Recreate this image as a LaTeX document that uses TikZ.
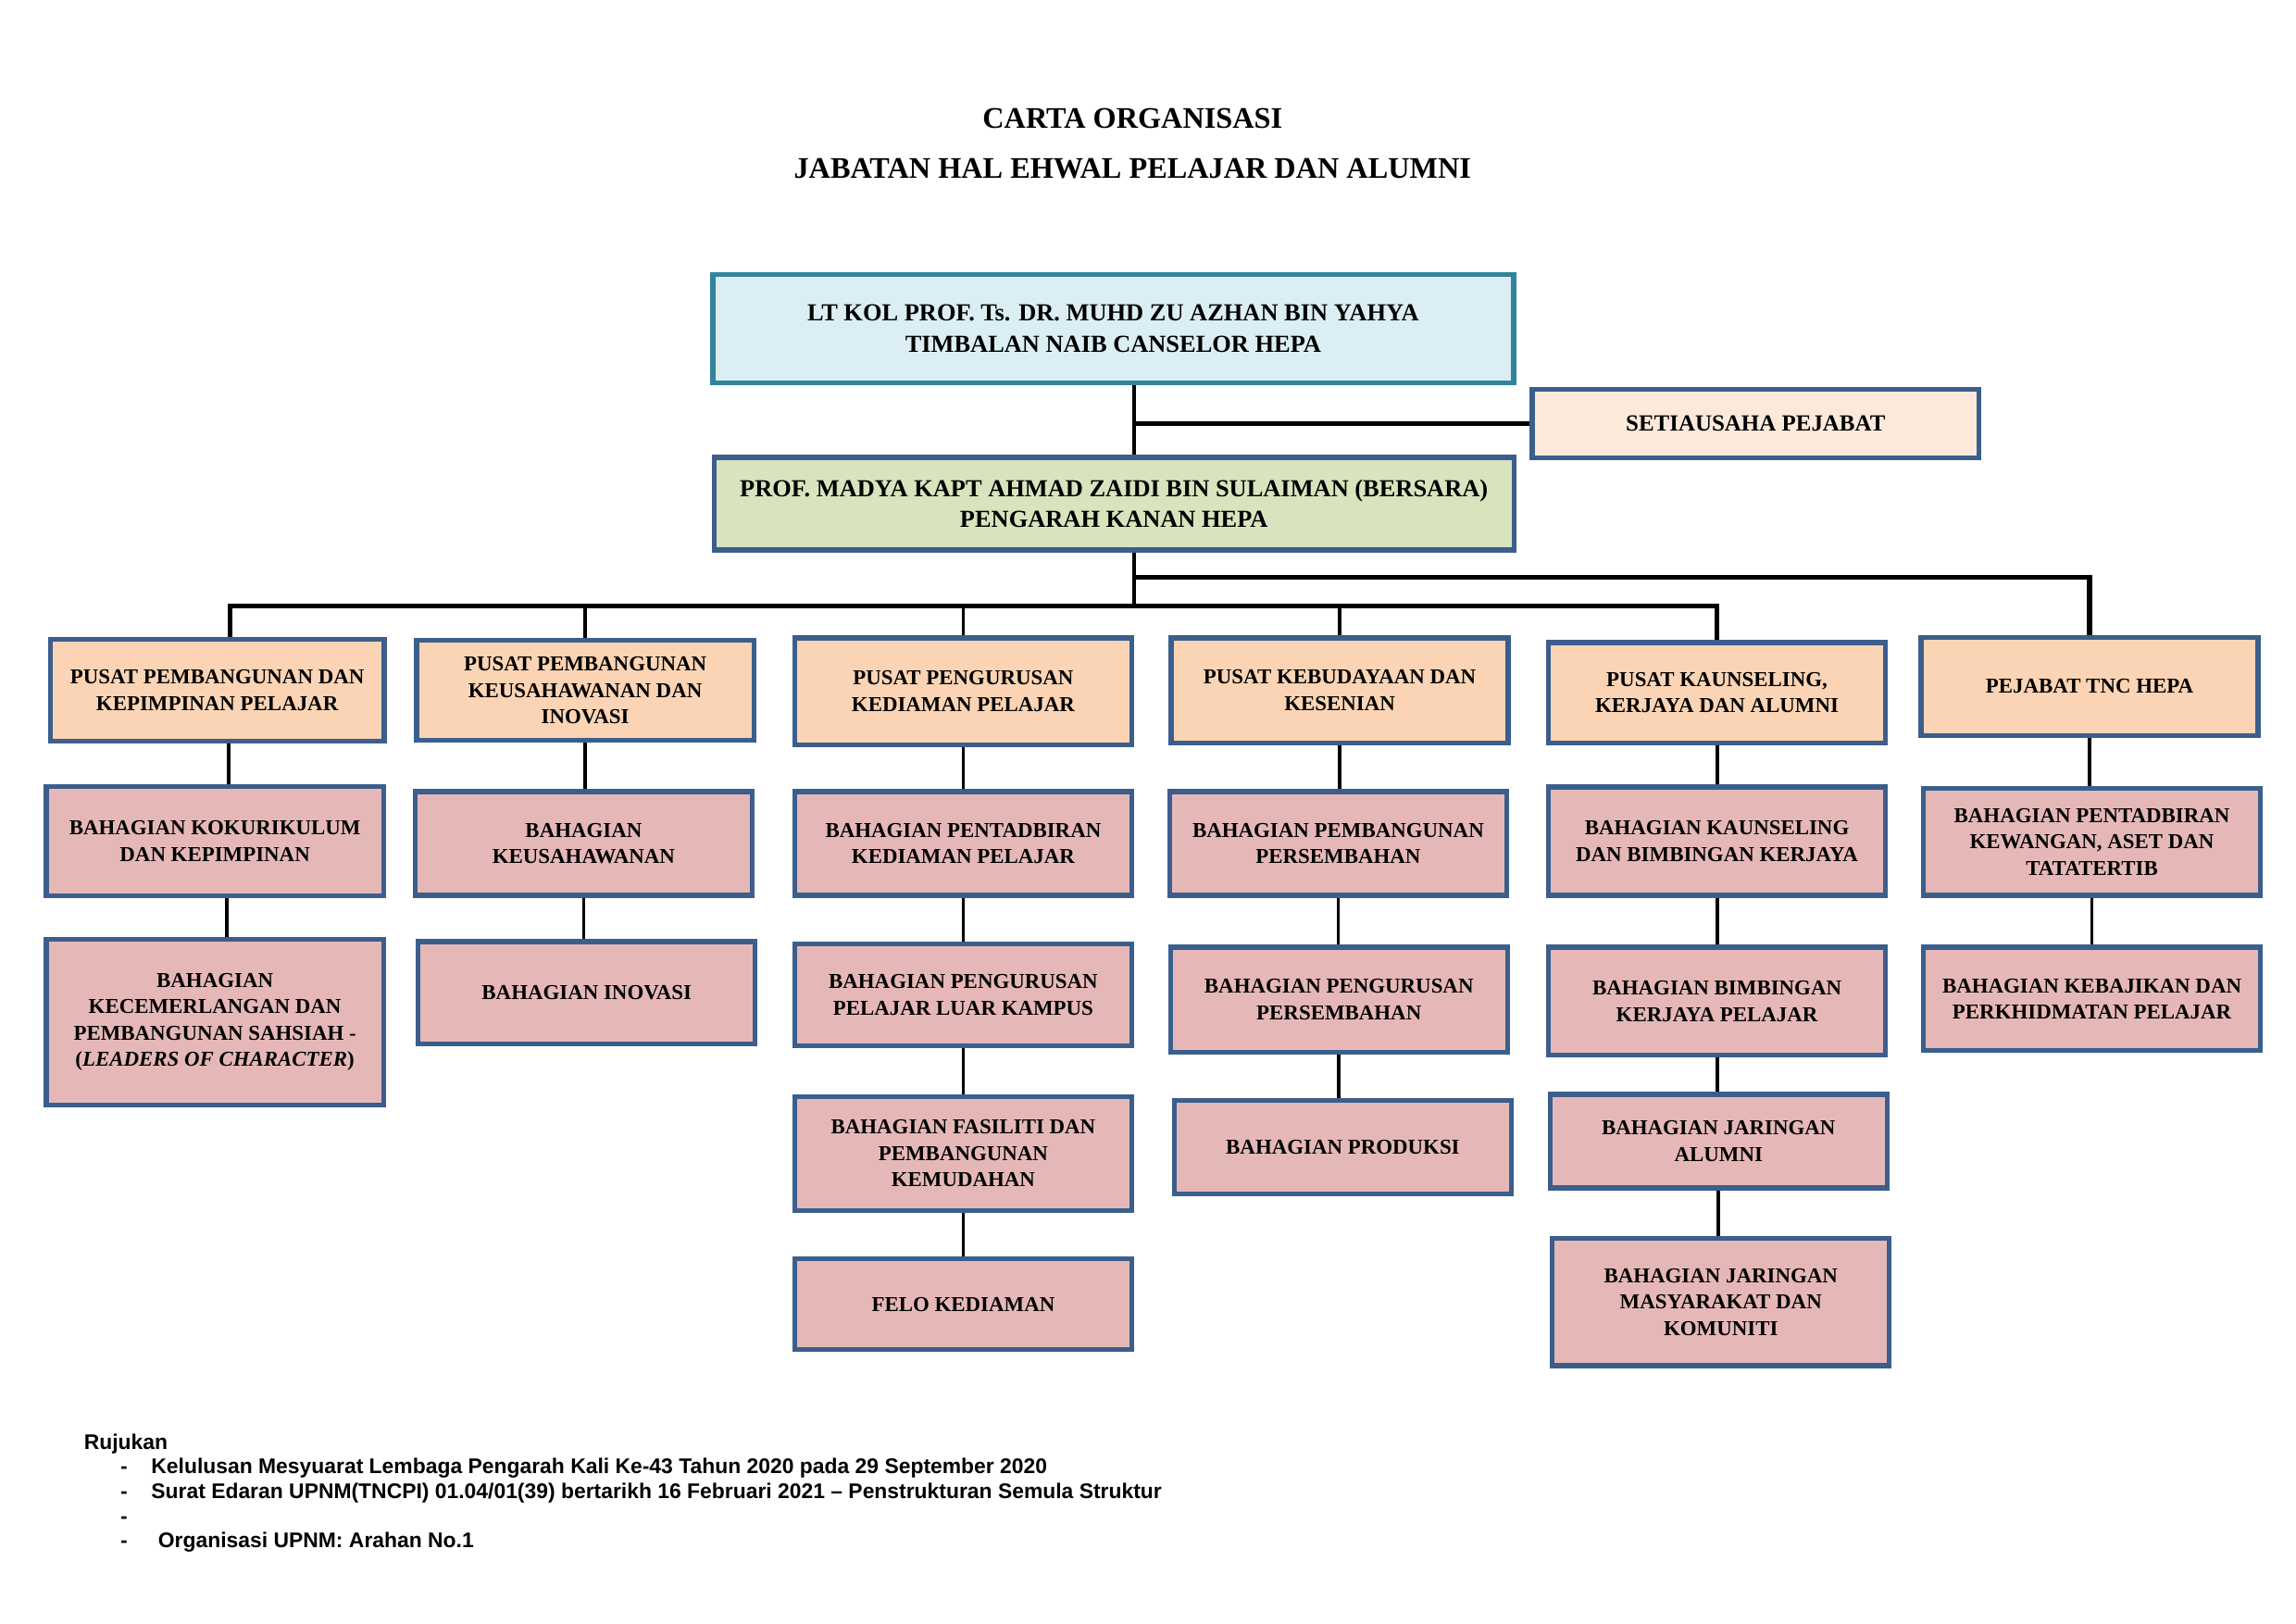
\documentclass[tikz,border=0pt]{standalone}
\usepackage{fontspec}
\setmainfont{Liberation Serif}
\newfontfamily\refsans{Liberation Sans}
\usepackage{tikz}

\definecolor{boxblue}{HTML}{3B5E8C}
\definecolor{tealedge}{HTML}{31849B}
\definecolor{tncfill}{HTML}{DBEEF4}
\definecolor{setiafill}{HTML}{FDE9D9}
\definecolor{kananfill}{HTML}{D7E4BD}
\definecolor{pusatfill}{HTML}{FAD4B4}
\definecolor{bahfill}{HTML}{E5B8B7}

\begin{document}
\begin{tikzpicture}[
   box/.style={draw=boxblue,line width=1.8pt,align=center,inner sep=2pt,
      minimum width=4.36cm,minimum height=1.34cm,
      font=\bfseries\fontsize{7.8}{9.7}\selectfont},
   pusat/.style={box,fill=pusatfill},
   bahagian/.style={box,fill=bahfill},
   bigbox/.style={box,font=\bfseries\fontsize{9}{11.5}\selectfont},
   link/.style={line width=1.3pt},
   boldlink/.style={line width=1.8pt},
   ref/.style={anchor=base west,inner sep=0pt,font=\refsans\bfseries\fontsize{7.8}{9}\selectfont}]

   \useasboundingbox (0,0) rectangle (29.7,-21);

   \node[anchor=base,font=\bfseries\fontsize{11}{13}\selectfont] (title) at (14.65,-1.66) {CARTA ORGANISASI};
   \node[anchor=base,font=\bfseries\fontsize{11}{13}\selectfont] (subtitle) at (14.65,-2.30) {JABATAN HAL EHWAL PELAJAR DAN ALUMNI};

   \node[bigbox,draw=tealedge,fill=tncfill,minimum width=10.36cm,minimum height=1.40cm] (tnc) at (14.40,-4.25) {LT KOL PROF. Ts. DR. MUHD ZU AZHAN BIN YAHYA\\TIMBALAN NAIB CANSELOR HEPA};
   \node[box,fill=setiafill,minimum width=5.78cm,minimum height=.89cm,font=\bfseries\fontsize{8.5}{10}\selectfont] (setia) at (22.71,-5.48) {SETIAUSAHA PEJABAT};
   \node[bigbox,fill=kananfill,minimum width=10.35cm,minimum height=1.20cm] (kanan) at (14.41,-6.515) {PROF. MADYA KAPT AHMAD ZAIDI BIN SULAIMAN (BERSARA)\\PENGARAH KANAN HEPA};

   \coordinate (trunk) at (14.67,-7.47);
   \coordinate (bar2) at (14.67,-7.84);

   % pusat
   \node[pusat,minimum width=4.32cm,minimum height=1.32cm] (pa) at (2.81,-8.93) {PUSAT PEMBANGUNAN DAN\\KEPIMPINAN PELAJAR};
   \node[pusat,minimum height=1.29cm] (pb) at (7.57,-8.93) {PUSAT PEMBANGUNAN\\KEUSAHAWANAN DAN\\INOVASI};
   \node[pusat,minimum height=1.38cm] (pc) at (12.46,-8.94) {PUSAT PENGURUSAN\\KEDIAMAN PELAJAR};
   \node[pusat,minimum height=1.36cm] (pd) at (17.33,-8.93) {PUSAT KEBUDAYAAN DAN\\KESENIAN};
   \node[pusat,minimum height=1.30cm] (pe) at (22.21,-8.96) {PUSAT KAUNSELING,\\KERJAYA DAN ALUMNI};
   \node[pusat,minimum height=1.27cm] (pt) at (27.03,-8.88) {PEJABAT TNC HEPA};

   % bahagian
   \node[bahagian,minimum height=1.42cm] (ba1) at (2.78,-10.88) {BAHAGIAN KOKURIKULUM\\DAN KEPIMPINAN};
   \node[bahagian,minimum height=2.14cm] (ba2) at (2.78,-13.22) {BAHAGIAN\\KECEMERLANGAN DAN\\PEMBANGUNAN SAHSIAH -\\(\textit{LEADERS OF CHARACTER})};

   \node[bahagian] (bb1) at (7.55,-10.91) {BAHAGIAN\\KEUSAHAWANAN};
   \node[bahagian,minimum height=1.32cm] (bb2) at (7.59,-12.84) {BAHAGIAN INOVASI};

   \node[bahagian] (bc1) at (12.46,-10.91) {BAHAGIAN PENTADBIRAN\\KEDIAMAN PELAJAR};
   \node[bahagian,minimum height=1.32cm] (bc2) at (12.46,-12.87) {BAHAGIAN PENGURUSAN\\PELAJAR LUAR KAMPUS};
   \node[bahagian,minimum height=1.47cm] (bc3) at (12.46,-14.92) {BAHAGIAN FASILITI DAN\\PEMBANGUNAN\\KEMUDAHAN};
   \node[bahagian,minimum height=1.17cm] (bc4) at (12.46,-16.87) {FELO KEDIAMAN};

   \node[bahagian] (bd1) at (17.31,-10.91) {BAHAGIAN PEMBANGUNAN\\PERSEMBAHAN};
   \node[bahagian,minimum height=1.36cm] (bd2) at (17.32,-12.93) {BAHAGIAN PENGURUSAN\\PERSEMBAHAN};
   \node[bahagian,minimum height=1.21cm] (bd3) at (17.37,-14.84) {BAHAGIAN PRODUKSI};

   \node[bahagian,minimum height=1.40cm] (be1) at (22.21,-10.88) {BAHAGIAN KAUNSELING\\DAN BIMBINGAN KERJAYA};
   \node[bahagian,minimum height=1.40cm] (be2) at (22.21,-12.95) {BAHAGIAN BIMBINGAN\\KERJAYA PELAJAR};
   \node[bahagian,minimum height=1.21cm] (be3) at (22.23,-14.76) {BAHAGIAN JARINGAN\\ALUMNI};
   \node[bahagian,minimum height=1.65cm] (be4) at (22.26,-16.84) {BAHAGIAN JARINGAN\\MASYARAKAT DAN\\KOMUNITI};

   \node[bahagian,minimum height=1.38cm] (bt1) at (27.06,-10.89) {BAHAGIAN PENTADBIRAN\\KEWANGAN, ASET DAN\\TATATERTIB};
   \node[bahagian] (bt2) at (27.06,-12.92) {BAHAGIAN KEBAJIKAN DAN\\PERKHIDMATAN PELAJAR};

   % lines
   \draw[link] (tnc.south -| trunk) -- (kanan.north -| trunk);
   \draw[boldlink] (trunk |- setia.west) -- (setia.west);
   \draw[link] (kanan.south -| trunk) -- (bar2);
   \draw[boldlink] (trunk) -| (pt.north);
   \draw[boldlink] ([xshift=.17cm]pa.north) |- (pe.north |- bar2) -- (pe.north);
   \foreach \n in {pb,pc,pd}
      \draw[link] (\n.north |- bar2) -- (\n.north);
   \foreach \a/\b in {pa/ba1,ba1/ba2}
      \draw[link] ([xshift=.15cm]\a.south) -- ([xshift=.15cm]\a.south |- \b.north);
   \foreach \a/\b in {pb/bb1,bb1/bb2,pc/bc1,bc1/bc2,bc2/bc3,bc3/bc4,pd/bd1,bd1/bd2,bd2/bd3,pe/be1,be1/be2,be2/be3,be3/be4,pt/bt1,bt1/bt2}
      \draw[link] (\a.south) -- (\a.south |- \b.north);

   % rujukan
   \node[ref] (rujukan) at (1.08,-18.75) {Rujukan};
   \node[ref] (dash1) at (1.55,-19.06) {-};
   \node[ref] (dash2) at (1.55,-19.38) {-};
   \node[ref] (dash3) at (1.55,-19.71) {-};
   \node[ref] (dash4) at (1.55,-20.02) {-};
   \node[ref] (ref1) at (1.95,-19.06) {Kelulusan Mesyuarat Lembaga Pengarah Kali Ke-43 Tahun 2020 pada 29 September 2020};
   \node[ref] (ref2) at (1.95,-19.38) {Surat Edaran UPNM(TNCPI) 01.04/01(39) bertarikh 16 Februari 2021 – Penstrukturan Semula Struktur};
   \node[ref] (ref4) at (2.04,-20.02) {Organisasi UPNM: Arahan No.1};
\end{tikzpicture}
\end{document}
